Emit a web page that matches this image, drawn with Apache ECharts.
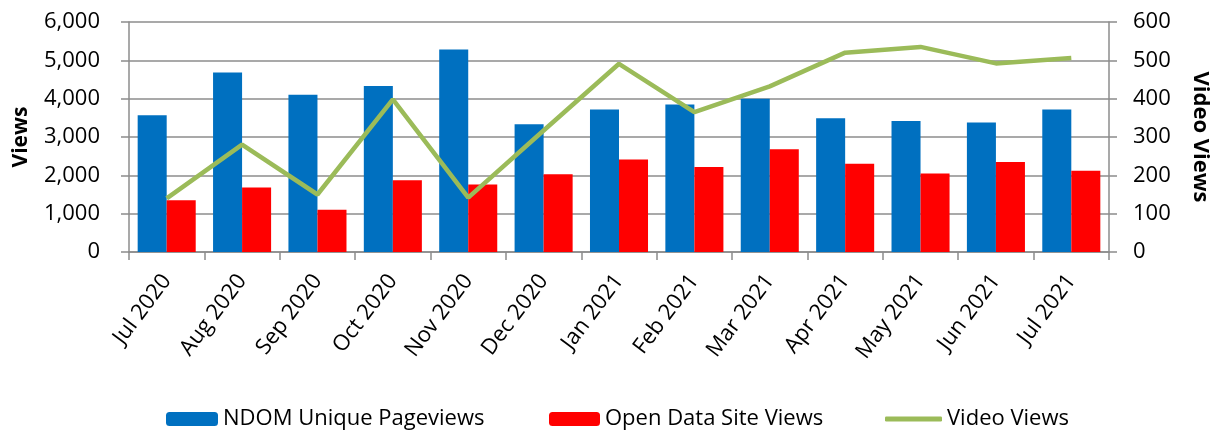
<!DOCTYPE html>
<html>
<head>
<meta charset="utf-8">
<script src="https://cdn.jsdelivr.net/npm/echarts@6/dist/echarts.min.js"></script>
<style>
    html, body { margin: 0; padding: 0; background: #fff; }
    #chart { width: 1214px; height: 432px; }
</style>
</head>
<body>
<div id="chart"></div>
<script>
    var months = ['Jul 2020', 'Aug 2020', 'Sep 2020', 'Oct 2020', 'Nov 2020', 'Dec 2020',
        'Jan 2021', 'Feb 2021', 'Mar 2021', 'Apr 2021', 'May 2021', 'Jun 2021', 'Jul 2021'];
    var pageviews = [3570, 4680, 4100, 4330, 5280, 3330, 3720, 3850, 4000, 3490, 3420, 3380, 3720];
    var openDataViews = [1350, 1680, 1100, 1870, 1760, 2030, 2410, 2220, 2680, 2300, 2050, 2350, 2120];
    var videoViews = [140, 280, 150, 398, 142, 317, 491, 365, 432, 520, 535, 492, 506];

    var font = '"Open Sans", sans-serif';
    var gridColor = '#8c8c8c';
    var legendText = { fontSize: 22, color: '#000', fontFamily: font };

    var myChart = echarts.init(document.getElementById('chart'));
    myChart.setOption({
        backgroundColor: '#fff',
        animation: false,
        textStyle: { fontFamily: font },
        grid: { left: 129, right: 105, top: 22, bottom: 180, outerBoundsMode: 'none', containLabel: false },
        legend: [{
            left: 161, top: 403,
            itemWidth: 52, itemHeight: 14, itemGap: 5,
            textStyle: legendText,
            data: ['NDOM Unique Pageviews']
        }, {
            left: 544, top: 403,
            itemWidth: 51, itemHeight: 14,
            textStyle: legendText,
            data: ['Open Data Site Views']
        }, {
            left: 880, top: 403,
            itemWidth: 57, itemHeight: 5,
            textStyle: legendText,
            data: [{ name: 'Video Views', icon: 'roundRect' }]
        }],
        xAxis: {
            type: 'category',
            data: months,
            axisLine: { lineStyle: { color: gridColor, width: 1.5 } },
            axisTick: { show: true, length: 8, lineStyle: { color: gridColor, width: 1.5 } },
            axisLabel: { rotate: 53, fontSize: 22, color: '#000', margin: 25, interval: 0 }
        },
        yAxis: [{
            type: 'value',
            min: 0, max: 6000, interval: 1000,
            name: 'Views',
            nameLocation: 'middle',
            nameRotate: 90,
            nameGap: 97,
            nameTextStyle: { fontSize: 21, fontWeight: 'bold', color: '#000' },
            axisLine: { show: true, lineStyle: { color: gridColor, width: 1.5 } },
            axisTick: { show: true, length: 8, lineStyle: { color: gridColor, width: 1.5 } },
            splitLine: { lineStyle: { color: gridColor, width: 1.5 } },
            axisLabel: {
                fontSize: 22, color: '#000', margin: 29,
                formatter: function (v) { return v.toLocaleString('en-US'); }
            }
        }, {
            type: 'value',
            min: 0, max: 600, interval: 100,
            name: 'Video Views',
            nameLocation: 'middle',
            nameRotate: -90,
            nameGap: 80,
            nameTextStyle: { fontSize: 22, fontWeight: 'bold', color: '#000' },
            axisLine: { show: true, lineStyle: { color: gridColor, width: 1.5 } },
            axisTick: { show: true, length: 8, lineStyle: { color: gridColor, width: 1.5 } },
            splitLine: { show: false },
            axisLabel: { fontSize: 22, color: '#000', margin: 24 }
        }],
        series: [{
            name: 'NDOM Unique Pageviews',
            type: 'bar',
            data: pageviews,
            barGap: '0%',
            barCategoryGap: '23%',
            itemStyle: { color: '#0070C0' }
        }, {
            name: 'Open Data Site Views',
            type: 'bar',
            data: openDataViews,
            itemStyle: { color: '#FF0000' }
        }, {
            name: 'Video Views',
            type: 'line',
            yAxisIndex: 1,
            data: videoViews,
            showSymbol: false,
            symbol: 'none',
            lineStyle: { color: '#9BBB59', width: 4.5 },
            itemStyle: { color: '#9BBB59' }
        }]
    });
</script>
</body>
</html>
